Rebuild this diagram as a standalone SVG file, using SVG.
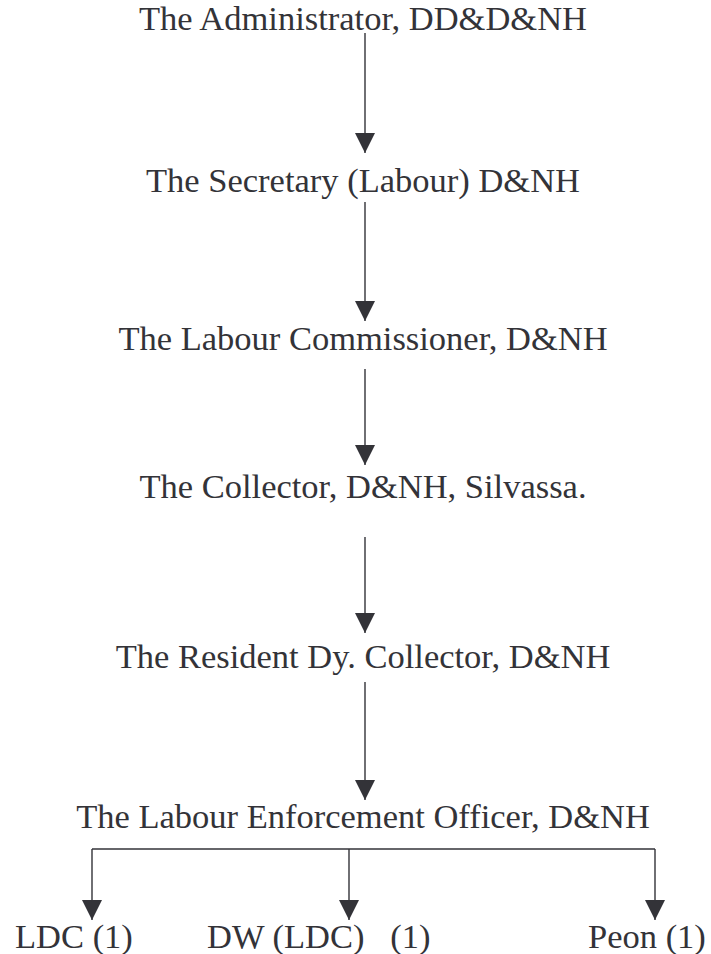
<svg xmlns="http://www.w3.org/2000/svg" width="711" height="954" viewBox="0 0 711 954">
<style>
text{font-family:"Liberation Serif","Times New Roman",serif;fill:#333338;font-size:34.5px;}
.t{text-anchor:middle;}
.c{stroke:#333338;stroke-width:1.4;fill:none;}
</style>
<defs>
<marker id="ah" viewBox="0 0 20 20" refX="20" refY="10" markerWidth="20" markerHeight="20" markerUnits="userSpaceOnUse" orient="auto">
<path d="M0,0 L20,10 L0,20 Z" fill="#333338"/>
</marker>
</defs>
<rect width="711" height="954" fill="#ffffff"/>
<g id="connectors">
<path class="c" d="M365,33 V153" marker-end="url(#ah)"/>
<path class="c" d="M365,202 V321" marker-end="url(#ah)"/>
<path class="c" d="M365,369 V465" marker-end="url(#ah)"/>
<path class="c" d="M365,537 V633" marker-end="url(#ah)"/>
<path class="c" d="M365,682 V800" marker-end="url(#ah)"/>
<path class="c" d="M92,849 H655"/>
<path class="c" d="M92,849 V920" marker-end="url(#ah)"/>
<path class="c" d="M349,849 V920" marker-end="url(#ah)"/>
<path class="c" d="M655,849 V920" marker-end="url(#ah)"/>
</g>
<g id="n1"><text class="t" x="363" y="30">The Administrator, DD&amp;D&amp;NH</text></g>
<g id="n2"><text class="t" x="363" y="192">The Secretary (Labour) D&amp;NH</text></g>
<g id="n3"><text class="t" x="363" y="350">The Labour Commissioner, D&amp;NH</text></g>
<g id="n4"><text class="t" x="363" y="498">The Collector, D&amp;NH, Silvassa.</text></g>
<g id="n5"><text class="t" x="363" y="668">The Resident Dy. Collector, D&amp;NH</text></g>
<g id="n6"><text class="t" x="363" y="828">The Labour Enforcement Officer, D&amp;NH</text></g>
<g id="n7"><text x="15" y="948">LDC (1)</text></g>
<g id="n8"><text x="207" y="948" xml:space="preserve">DW (LDC)   (1)</text></g>
<g id="n9"><text x="588" y="948">Peon (1)</text></g>
</svg>
